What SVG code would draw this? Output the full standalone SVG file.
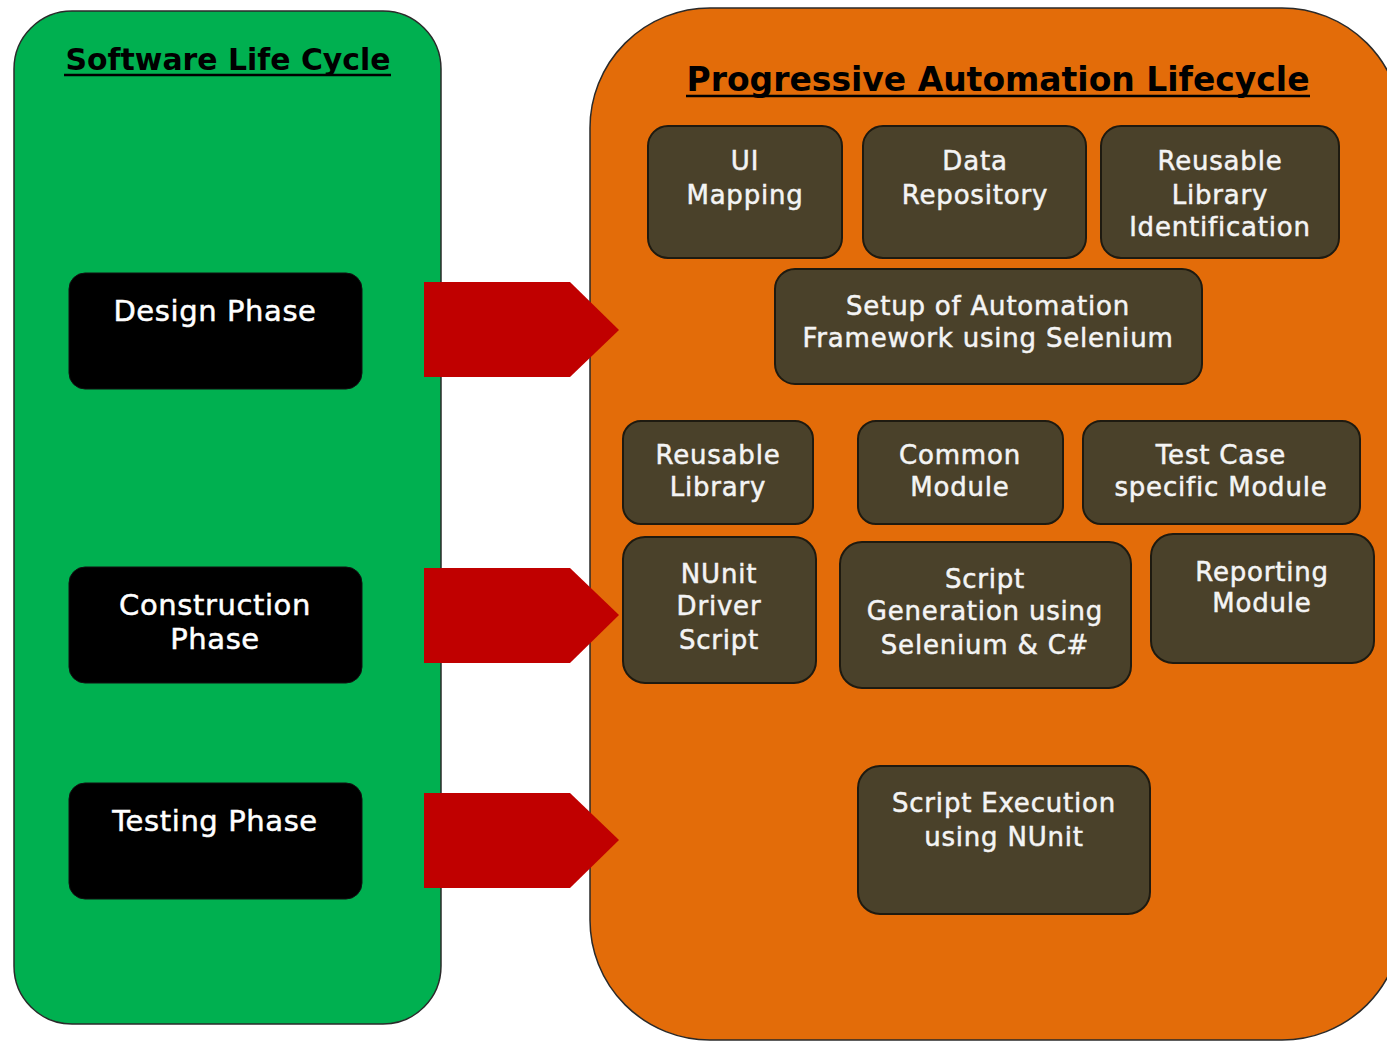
<svg xmlns="http://www.w3.org/2000/svg" width="1387" height="1042" viewBox="0 0 1387 1042">
<style>
.panel{stroke:#2a2a2a;stroke-width:1.5}
.phase{fill:#000;stroke:#111;stroke-width:1}
.phase-t{font-family:"DejaVu Sans",Verdana,sans-serif;font-size:29px;letter-spacing:0.6px;fill:#fff;stroke:#fff;stroke-width:0.5;text-anchor:middle}
.box{fill:#4A412A;stroke:#1e1a10;stroke-width:2}
.box-t{font-family:"DejaVu Sans",Verdana,sans-serif;font-size:26px;letter-spacing:0.8px;fill:#f4f4f4;stroke:#f4f4f4;stroke-width:0.5;text-anchor:middle}
.title{font-family:"DejaVu Sans",Verdana,sans-serif;font-weight:bold;fill:#000;text-anchor:middle}
.arrow{fill:#C00000}
</style>
<rect width="1387" height="1042" fill="#fff"/>
<g id="software-life-cycle">
<rect class="panel" x="14" y="11" width="427" height="1013" rx="58" ry="58" fill="#00B050"/>
<text class="title" x="228" y="70" font-size="30" textLength="325" lengthAdjust="spacingAndGlyphs">Software Life Cycle</text>
<line x1="64" y1="75" x2="391" y2="75" stroke="#000" stroke-width="2.5"/>
</g>
<g id="progressive-automation-lifecycle">
<rect class="panel" x="590" y="8" width="812" height="1032" rx="120" ry="120" fill="#E36C09"/>
<text class="title" x="998" y="91" font-size="33" textLength="623" lengthAdjust="spacingAndGlyphs">Progressive Automation Lifecycle</text>
<line x1="686" y1="96" x2="1310" y2="96" stroke="#000" stroke-width="2.5"/>
</g>
<g id="design-phase">
<rect class="phase" x="69" y="273" width="293" height="116" rx="16"/>
<text class="phase-t" x="215" y="321">Design Phase</text>
</g>
<g id="construction-phase">
<rect class="phase" x="69" y="567" width="293" height="116" rx="16"/>
<text class="phase-t" x="215" y="615">Construction</text>
<text class="phase-t" x="215" y="649">Phase</text>
</g>
<g id="testing-phase">
<rect class="phase" x="69" y="783" width="293" height="116" rx="16"/>
<text class="phase-t" x="215" y="831">Testing Phase</text>
</g>
<g id="connectors">
<polygon class="arrow" points="424,282 570,282 619,330 570,377 424,377"/>
<polygon class="arrow" points="424,568 570,568 619,615 570,663 424,663"/>
<polygon class="arrow" points="424,793 570,793 619,840 570,888 424,888"/>
</g>
<g id="ui-mapping">
<rect class="box" x="648" y="126" width="194" height="132" rx="20"/>
<text class="box-t" x="745" y="170">UI</text>
<text class="box-t" x="745" y="204">Mapping</text>
</g>
<g id="data-repository">
<rect class="box" x="863" y="126" width="223" height="132" rx="20"/>
<text class="box-t" x="975" y="170">Data</text>
<text class="box-t" x="975" y="204">Repository</text>
</g>
<g id="reusable-library-identification">
<rect class="box" x="1101" y="126" width="238" height="132" rx="20"/>
<text class="box-t" x="1220" y="170">Reusable</text>
<text class="box-t" x="1220" y="204">Library</text>
<text class="box-t" x="1220" y="236">Identification</text>
</g>
<g id="setup-framework">
<rect class="box" x="775" y="269" width="427" height="115" rx="20"/>
<text class="box-t" x="988" y="315">Setup of Automation</text>
<text class="box-t" x="988" y="347">Framework using Selenium</text>
</g>
<g id="reusable-library">
<rect class="box" x="623" y="421" width="190" height="103" rx="18"/>
<text class="box-t" x="718" y="464">Reusable</text>
<text class="box-t" x="718" y="496">Library</text>
</g>
<g id="common-module">
<rect class="box" x="858" y="421" width="205" height="103" rx="18"/>
<text class="box-t" x="960" y="464">Common</text>
<text class="box-t" x="960" y="496">Module</text>
</g>
<g id="test-case-module">
<rect class="box" x="1083" y="421" width="277" height="103" rx="18"/>
<text class="box-t" x="1221" y="464">Test Case</text>
<text class="box-t" x="1221" y="496">specific Module</text>
</g>
<g id="nunit-driver-script">
<rect class="box" x="623" y="537" width="193" height="146" rx="22"/>
<text class="box-t" x="719" y="583">NUnit</text>
<text class="box-t" x="719" y="615">Driver</text>
<text class="box-t" x="719" y="649">Script</text>
</g>
<g id="script-generation">
<rect class="box" x="840" y="542" width="291" height="146" rx="22"/>
<text class="box-t" x="985" y="588">Script</text>
<text class="box-t" x="985" y="620">Generation using</text>
<text class="box-t" x="985" y="654">Selenium &amp; C#</text>
</g>
<g id="reporting-module">
<rect class="box" x="1151" y="534" width="223" height="129" rx="22"/>
<text class="box-t" x="1262" y="581">Reporting</text>
<text class="box-t" x="1262" y="612">Module</text>
</g>
<g id="script-execution">
<rect class="box" x="858" y="766" width="292" height="148" rx="22"/>
<text class="box-t" x="1004" y="812">Script Execution</text>
<text class="box-t" x="1004" y="846">using NUnit</text>
</g>
</svg>
